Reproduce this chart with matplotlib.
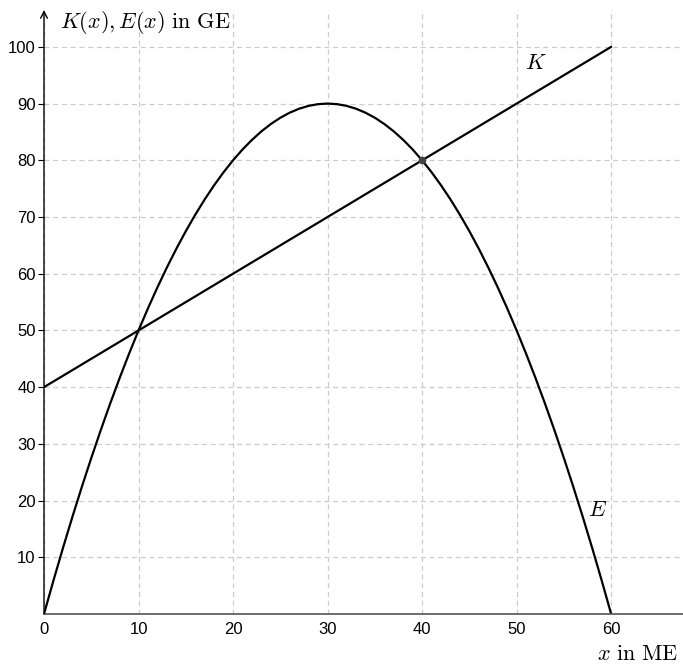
import numpy as np
import matplotlib.pyplot as plt

plt.rcParams['mathtext.fontset'] = 'cm'
plt.rcParams['font.family'] = ['Liberation Sans', 'DejaVu Sans']

# K(x): straight line, read at its ends
k_x = [0, 60]
k_y = [40, 100]

# E(x): values every 1 ME
e_x = list(range(0, 61))
e_left = [0, 5.9, 11.6, 17.1, 22.4, 27.5, 32.4, 37.1, 41.6, 45.9, 50,
          53.9, 57.6, 61.1, 64.4, 67.5, 70.4, 73.1, 75.6, 77.9, 80,
          81.9, 83.6, 85.1, 86.4, 87.5, 88.4, 89.1, 89.6, 89.9]
e_y = e_left + [90] + e_left[::-1]

pt_x, pt_y = 40, 80

xticks = [0, 10, 20, 30, 40, 50, 60]
yticks = [10, 20, 30, 40, 50, 60, 70, 80, 90, 100]

W, H = 683, 664
fig = plt.figure(figsize=(W / 100, H / 100), dpi=100)
ax = fig.add_axes([44 / W, 50 / H, 639 / W, 604 / H])
ax.set_xlim(0, 67.6)
ax.set_ylim(0, 106.5)

ax.set_xticks(xticks)
ax.set_yticks(yticks)
ax.grid(True, color='#cccccc', linestyle=(0, (4, 3)), linewidth=0.9)
ax.set_axisbelow(True)

for s in ['top', 'right', 'left']:
    ax.spines[s].set_visible(False)
ax.spines['bottom'].set_color('#555555')
ax.spines['bottom'].set_linewidth(1.2)
ax.tick_params(axis='x', length=0, labelsize=12, pad=6)
ax.tick_params(axis='y', length=4, width=0.8, labelsize=12, pad=2)

# y axis with arrow
ax.annotate('', xy=(0, 1.0), xytext=(0, 0), xycoords='axes fraction',
            arrowprops=dict(arrowstyle='->', color='black', lw=1.0,
                            shrinkA=0, shrinkB=0, mutation_scale=12))

ax.plot(k_x, k_y, color='black', lw=1.6, solid_capstyle='round')
ax.plot(e_x, e_y, color='black', lw=1.6, solid_capstyle='round')
ax.plot([pt_x], [pt_y], 'o', color='#444444', markersize=4.5, zorder=5)

ax.text(52.0, 97.0, r'$K$', fontsize=16, ha='center', va='center')
ax.text(58.6, 18.3, r'$E$', fontsize=16, ha='center', va='center')

fig.text(60 / W, 1 - 22 / H, r'$K(x), E(x)\ \mathrm{in\ GE}$', fontsize=16,
         ha='left', va='center')
fig.text(678 / W, 1 - 654 / H, r'$x\ \mathrm{in\ ME}$', fontsize=16,
         ha='right', va='center')

fig.savefig('out.png', dpi=100)
